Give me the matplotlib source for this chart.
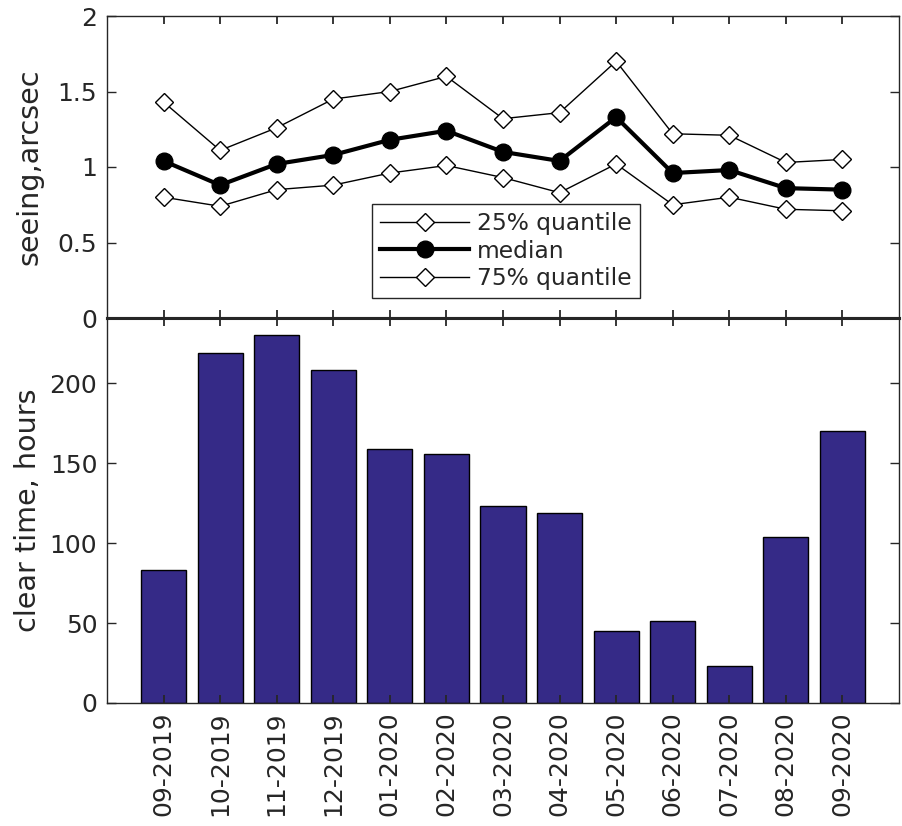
import matplotlib
matplotlib.use("Agg")
import matplotlib.pyplot as plt
import numpy as np

months = ["09-2019", "10-2019", "11-2019", "12-2019", "01-2020", "02-2020",
          "03-2020", "04-2020", "05-2020", "06-2020", "07-2020", "08-2020", "09-2020"]
q_low = [0.80, 0.74, 0.85, 0.88, 0.96, 1.01, 0.93, 0.83, 1.02, 0.75, 0.80, 0.72, 0.71]
median = [1.04, 0.88, 1.02, 1.08, 1.18, 1.24, 1.10, 1.04, 1.33, 0.96, 0.98, 0.86, 0.85]
q_high = [1.43, 1.11, 1.26, 1.45, 1.50, 1.60, 1.32, 1.36, 1.70, 1.22, 1.21, 1.03, 1.05]
clear_hours = [83, 219, 230, 208, 159, 156, 123, 119, 45, 51, 23, 104, 170]

TXT = "#262626"
plt.rcParams["font.family"] = ["DejaVu Sans"]
plt.rcParams["font.size"] = 18
plt.rcParams["text.color"] = TXT
plt.rcParams["axes.labelcolor"] = TXT
plt.rcParams["xtick.color"] = TXT
plt.rcParams["ytick.color"] = TXT

W, H = 902, 826
fig = plt.figure(figsize=(W / 100, H / 100), dpi=100)
L, R = 107, 899
ax1 = fig.add_axes([L / W, (H - 318) / H, (R - L) / W, (318 - 16) / H])
ax2 = fig.add_axes([L / W, (H - 703) / H, (R - L) / W, (703 - 318) / H])

x = np.arange(1, len(months) + 1)

ax1.plot(x, q_low, color="black", lw=1.0, marker="D", ms=8.7, mfc="white",
         mec="black", mew=1.0, label="25% quantile")
ax1.plot(x, median, color="black", lw=3.0, marker="o", ms=12, mfc="black",
         mec="black", label="median")
ax1.plot(x, q_high, color="black", lw=1.0, marker="D", ms=8.7, mfc="white",
         mec="black", mew=1.0, label="75% quantile")
ax1.set_xlim(0, 14)
ax1.set_ylim(0, 2)
ax1.set_yticks([0, 0.5, 1, 1.5, 2])
ax1.set_yticklabels(["0", "0.5", "1", "1.5", "2"])
ax1.set_xticks(x)
ax1.set_xticklabels([])
ax1.set_ylabel("seeing,arcsec", fontsize=20.6)
leg = ax1.legend(loc="lower left", bbox_to_anchor=(0.335, 0.065), borderaxespad=0,
                 fancybox=False, edgecolor="#262626", framealpha=1,
                 handlelength=3.8, handletextpad=0.34, labelspacing=0.2,
                 borderpad=0.35, fontsize=16.8)
leg.get_frame().set_linewidth(1.0)

ax2.bar(x, clear_hours, width=0.8, color="#352a87", edgecolor="black", linewidth=1.0)
ax2.set_xlim(0, 14)
ax2.set_ylim(0, 240.8)
ax2.set_yticks([0, 50, 100, 150, 200])
ax2.set_xticks(x)
ax2.set_xticklabels(months, rotation=90)
ax2.set_ylabel("clear time, hours", fontsize=20.6)

for ax in (ax1, ax2):
    ax.tick_params(direction="in", length=6.3, width=1.0, top=True, right=True, pad=7)
    for s in ax.spines.values():
        s.set_color(TXT)
        s.set_linewidth(1.0)
ax1.spines["bottom"].set_linewidth(2.2)
ax2.spines["top"].set_linewidth(2.2)
ax1.tick_params(axis="x", width=1.3, length=6)
ax2.tick_params(axis="x", width=1.3, length=6, pad=6)

ax1.yaxis.set_label_coords(-0.08, 0.5)
ax2.yaxis.set_label_coords(-0.082, 0.5)

fig.savefig("out.png", dpi=100)
